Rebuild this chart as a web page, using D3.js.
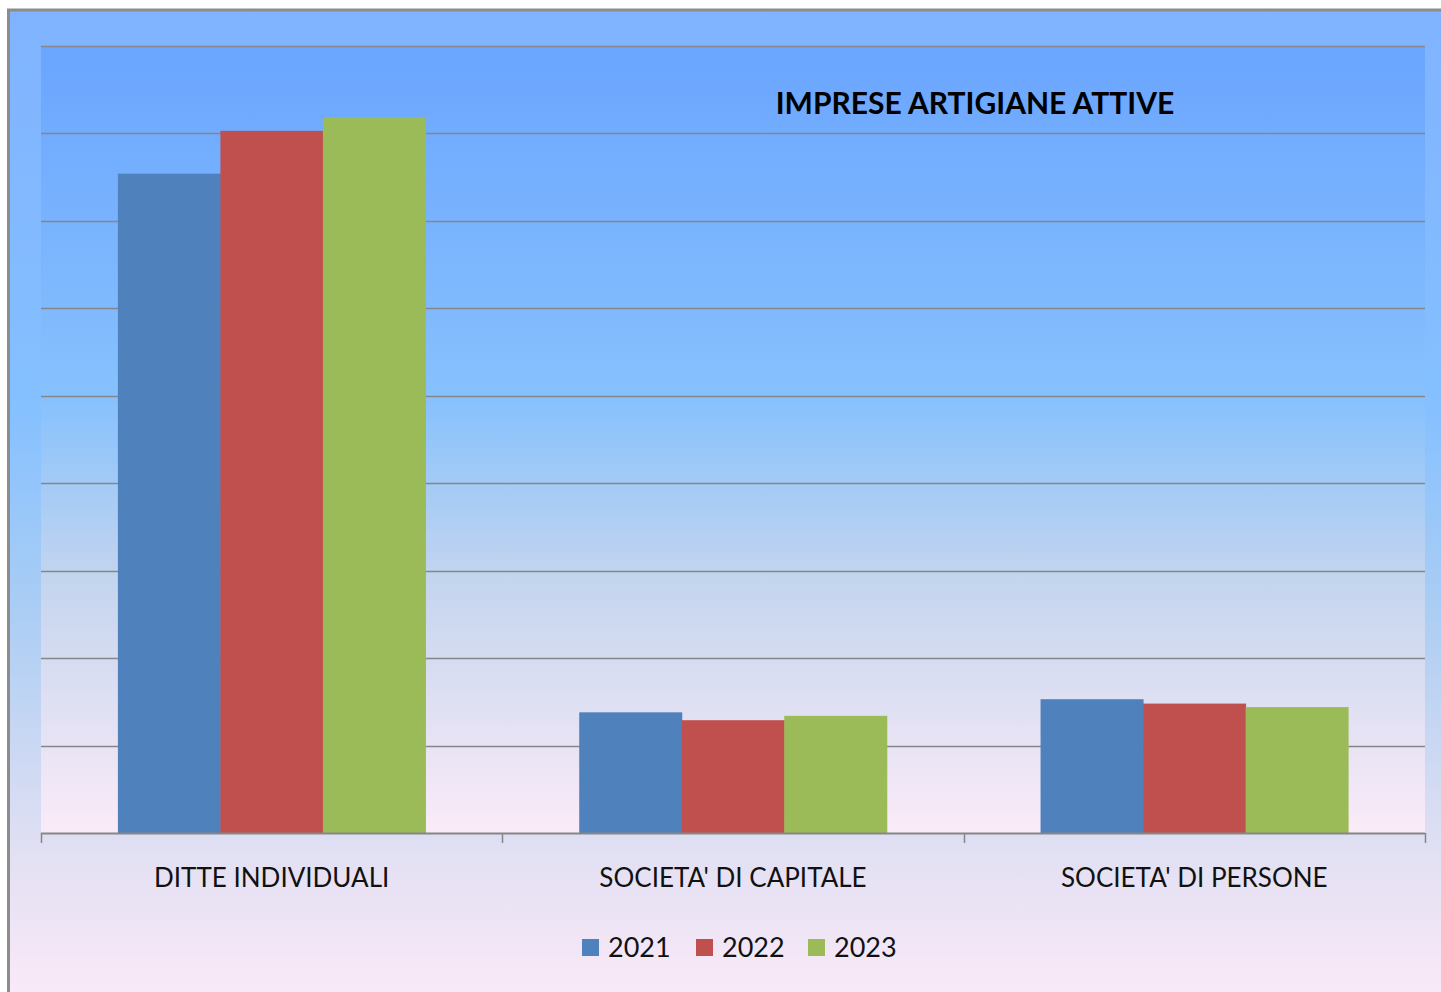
<!DOCTYPE html>
<html>
<head>
<meta charset="utf-8">
<script src="https://cdn.jsdelivr.net/npm/d3@7"></script>
<style>
  body { margin: 0; background: #ffffff; }
  svg { display: block; }
</style>
</head>
<body>
<div id="chart"></div>
<script>
// chart data
const categories = ["DITTE INDIVIDUALI", "SOCIETA' DI CAPITALE", "SOCIETA' DI PERSONE"];
const years = ["2021", "2022", "2023"];
const values2021 = [754, 138, 153];
const values2022 = [803, 129, 148];
const values2023 = [818, 134, 144];
const yTicks = [0, 100, 200, 300, 400, 500, 600, 700, 800, 900];
const colors = ["#4f81bd", "#c0504d", "#9bbb59"];

const series = [values2021, values2022, values2023];

const width = 1441, height = 992;
const plot = { left: 41, right: 1425, top: 46, bottom: 833 };

const svg = d3.select("#chart").append("svg")
    .attr("width", width)
    .attr("height", height);

const defs = svg.append("defs");

// outer background gradient
const outerGrad = defs.append("linearGradient")
    .attr("id", "outerGrad")
    .attr("x1", 0).attr("y1", 0).attr("x2", 0).attr("y2", 1);
outerGrad.append("stop").attr("offset", "0%").attr("stop-color", "#80b3ff");
outerGrad.append("stop").attr("offset", "40%").attr("stop-color", "#85c0ff");
outerGrad.append("stop").attr("offset", "60%").attr("stop-color", "#aacdf4");
outerGrad.append("stop").attr("offset", "85%").attr("stop-color", "#e2e0f3");
outerGrad.append("stop").attr("offset", "100%").attr("stop-color", "#fbeaf8");

// plot area gradient
const plotGrad = defs.append("linearGradient")
    .attr("id", "plotGrad")
    .attr("x1", 0).attr("y1", 0).attr("x2", 0).attr("y2", 1);
plotGrad.append("stop").attr("offset", "0%").attr("stop-color", "#6aa5ff");
plotGrad.append("stop").attr("offset", "45%").attr("stop-color", "#87c1fd");
plotGrad.append("stop").attr("offset", "68%").attr("stop-color", "#c4d5ee");
plotGrad.append("stop").attr("offset", "100%").attr("stop-color", "#fbebf8");

// chart frame
svg.append("rect")
    .attr("x", 8.5).attr("y", 10)
    .attr("width", width).attr("height", height)
    .attr("fill", "url(#outerGrad)")
    .attr("stroke", "#8c8c8c")
    .attr("stroke-width", 3);

svg.append("rect")
    .attr("x", plot.left).attr("y", plot.top)
    .attr("width", plot.right - plot.left)
    .attr("height", plot.bottom - plot.top)
    .attr("fill", "url(#plotGrad)");

// scales
const y = d3.scaleLinear()
    .domain([0, 900])
    .range([plot.bottom, plot.top]);

const x0 = d3.scaleBand()
    .domain(categories)
    .range([plot.left, plot.right])
    .paddingInner(0)
    .paddingOuter(0);

const x1 = d3.scaleBand()
    .domain(years)
    .range([0, x0.bandwidth()])
    .paddingInner(0)
    .paddingOuter(0.75);

// gridlines
svg.append("g")
    .selectAll("line")
    .data(yTicks.slice(1))
    .join("line")
    .attr("x1", plot.left)
    .attr("x2", plot.right)
    .attr("y1", d => Math.round(y(d)) + 0.5)
    .attr("y2", d => Math.round(y(d)) + 0.5)
    .attr("stroke", "#868686")
    .attr("stroke-width", 1.3);

// bars
const groups = svg.append("g")
    .selectAll("g")
    .data(categories)
    .join("g")
    .attr("transform", d => `translate(${x0(d)},0)`);

groups.selectAll("rect")
    .data((d, i) => years.map((yr, j) => ({ yr: yr, value: series[j][i], color: colors[j] })))
    .join("rect")
    .attr("x", d => x1(d.yr))
    .attr("y", d => y(d.value))
    .attr("width", x1.bandwidth() + 0.5)
    .attr("height", d => plot.bottom - y(d.value))
    .attr("fill", d => d.color);

// x axis
const xAxis = svg.append("g")
    .attr("transform", `translate(0,${plot.bottom})`);

xAxis.append("line")
    .attr("x1", plot.left).attr("x2", plot.right)
    .attr("y1", 0.5).attr("y2", 0.5)
    .attr("stroke", "#868686")
    .attr("stroke-width", 2);

const boundaries = categories.map(c => x0(c)).concat([plot.right]);
xAxis.selectAll(".tick-mark")
    .data(boundaries)
    .join("line")
    .attr("class", "tick-mark")
    .attr("x1", d => Math.round(d) + 0.5)
    .attr("x2", d => Math.round(d) + 0.5)
    .attr("y1", 0).attr("y2", 10)
    .attr("stroke", "#868686")
    .attr("stroke-width", 1.5);

xAxis.selectAll(".cat-label")
    .data(categories)
    .join("text")
    .attr("class", "cat-label")
    .attr("x", d => x0(d) + x0.bandwidth() / 2)
    .attr("y", 54)
    .attr("text-anchor", "middle")
    .style("font-family", "Lato, 'Open Sans', sans-serif")
    .style("font-size", "26px")
    .attr("fill", "#111")
    .text(d => d);

// title
svg.append("text")
    .attr("x", 975)
    .attr("y", 114)
    .attr("text-anchor", "middle")
    .style("font-family", "Lato, 'Open Sans', sans-serif")
    .style("font-weight", "bold")
    .style("font-size", "30px")
    .attr("fill", "#000")
    .text("IMPRESE ARTIGIANE ATTIVE");

// legend
const legendX = [582, 696, 808];
const legend = svg.append("g");
years.forEach((yr, i) => {
    legend.append("rect")
        .attr("x", legendX[i]).attr("y", 939)
        .attr("width", 17).attr("height", 17)
        .attr("fill", colors[i]);
    legend.append("text")
        .attr("x", legendX[i] + 26)
        .attr("y", 957)
        .style("font-family", "Lato, 'Open Sans', sans-serif")
        .style("font-size", "27px")
        .attr("fill", "#111")
        .text(yr);
});
</script>
</body>
</html>
